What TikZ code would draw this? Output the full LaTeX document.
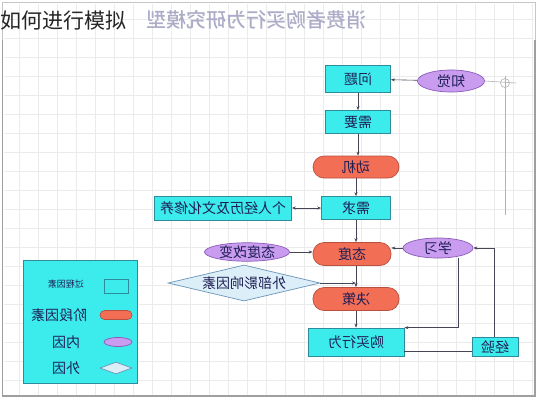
\documentclass[tikz,border=0pt]{standalone}
\usepackage{fontspec}
\usepackage{graphicx}
\newfontfamily\cjk{Noto Sans CJK SC}
\newfontfamily\cjkb{Noto Sans CJK SC Medium}
\usetikzlibrary{shapes.geometric,arrows.meta}
\definecolor{cy}{HTML}{3CEBEB}
\definecolor{cyb}{HTML}{2C8C9C}
\definecolor{org}{HTML}{F26E55}
\definecolor{orgb}{HTML}{B85040}
\definecolor{pur}{HTML}{C99CF0}
\definecolor{purb}{HTML}{8A5CB8}
\definecolor{dia}{HTML}{DCEFF8}
\definecolor{diab}{HTML}{6A94B8}
\definecolor{txt}{HTML}{1E1E55}
\definecolor{titlec}{HTML}{ACACC8}
\definecolor{conn}{HTML}{454555}
\newcommand{\mr}[1]{\reflectbox{#1}}
\begin{document}
\begin{tikzpicture}[x=1pt,y=-1pt,
  font=\cjk\fontsize{14}{14}\selectfont,
  every node/.style={text=txt},
  procbox/.style={draw=cyb, fill=cy, inner sep=0, line width=0.7},
  stagebox/.style={draw=orgb, fill=org, inner sep=0, rounded corners=11, line width=0.7},
  innerbox/.style={draw=purb, fill=pur, ellipse, inner sep=0, line width=0.7},
  outerbox/.style={draw=diab, fill=dia, diamond, aspect=4, inner sep=0, line width=0.7},
  arr/.style={draw=conn, line width=0.6, -{Stealth[length=4pt,width=3pt]}},
  darr/.style={draw=conn, line width=0.6, {Stealth[length=4pt,width=3pt]}-{Stealth[length=4pt,width=3pt]}},
  ln/.style={draw=conn, line width=0.6},
  guide/.style={draw=gray!60, line width=0.6}]
\fill[white] (0,0) rectangle (538,400);
\useasboundingbox (0,0) rectangle (538,400);
\foreach \gx in {19,38,...,532} {\draw[gray!16, line width=0.4] (\gx,4) -- (\gx,395);}
\foreach \gy in {19,38,...,394} {\draw[gray!16, line width=0.4] (4,\gy) -- (534,\gy);}
\draw[gray!45, line width=0.8] (2,2) rectangle (535,396);
\draw[gray!75, line width=1.6] (2.5,40) -- (2.5,396) -- (535,396) -- (535,40);
% title and overlay
\node[text=titlec, font=\cjkb\fontsize{20}{20}\selectfont, inner sep=0] (title) at (256,20) {\mr{消费者购买行为研究模型}};
\node[text=black!85, anchor=west, font=\cjk\fontsize{21}{21}\selectfont, inner sep=0] (ov) at (0,21) {如何进行模拟};
% main nodes
\node[procbox, minimum width=65, minimum height=27] (wenti) at (358,79) {\mr{问题}};
\node[innerbox, minimum width=67, minimum height=22] (zhijue) at (451,81) {\mr{知觉}};
\node[procbox, minimum width=65, minimum height=23] (xuyao) at (358,122) {\mr{需要}};
\node[stagebox, minimum width=86, minimum height=22] (dongji) at (356,167) {\mr{动机}};
\node[procbox, minimum width=69, minimum height=23] (xuqiu) at (356,208) {\mr{需求}};
\node[procbox, minimum width=137, minimum height=24] (geren) at (223,208) {\mr{个人经历及文化修养}};
\node[stagebox, minimum width=78, minimum height=23] (taidu) at (352,254) {\mr{态度}};
\node[innerbox, minimum width=70, minimum height=20] (xuexi) at (438,248) {\mr{学习}};
\node[innerbox, minimum width=85, minimum height=18] (gaibian) at (247,252) {\mr{态度改变}};
\node[outerbox, minimum width=152, minimum height=36] (waibu) at (244,283) {\mr{外部影响因素}};
\node[stagebox, minimum width=86, minimum height=23] (juece) at (356,299) {\mr{决策}};
\node[procbox, minimum width=96, minimum height=28] (goumai) at (356,342) {\mr{购买行为}};
\node[procbox, minimum width=46, minimum height=19] (jingyan) at (495,347) {\mr{经验}};
% guide line with crosshair
\coordinate (cross) at (505,83);
\coordinate (crossend) at (516,83);
\coordinate (crosstop) at (505,76);
\coordinate (crossbot) at (505,215);
\draw[guide] (zhijue.east) -- (crossend);
\draw[guide] (crosstop) -- (crossbot);
\draw[guide] (cross) circle[radius=4.5];
% connectors
\draw[arr] (zhijue) -- (wenti);
\draw[arr] (wenti.south -| xuyao) -- (xuyao);
\draw[arr] (xuyao) -- (xuyao |- dongji.north);
\draw[arr] (dongji) -- (dongji |- xuqiu.north);
\draw[darr] (geren) -- (xuqiu);
\draw[arr] (xuqiu) -- (xuqiu |- taidu.north);
\draw[arr] (gaibian) -- (gaibian -| taidu.west);
\draw[arr] (xuexi) -- (xuexi -| taidu.east);
\draw[arr] (taidu.south -| juece) -- (juece);
\coordinate (wjoin) at (356,283);
\draw[arr] (waibu.east) -- (wjoin);
\draw[arr] (juece) -- (goumai);
\coordinate (xl) at (458,250);
\draw[arr] (xl |- xuexi.south) |- (goumai.north east);
\coordinate (gy) at (404,351);
\draw[ln] (gy) -- (gy -| jingyan.west);
\coordinate (jx) at (494,250);
\draw[arr] (jx |- jingyan.north) |- (xuexi.east);
% legend
\node[procbox, minimum width=114, minimum height=123] (legend) at (80,321.5) {};
\node[font=\cjk\fontsize{9}{9}\selectfont] (l1t) at (66,284) {\mr{过程因素}};
\node[procbox, minimum width=24, minimum height=14] (l1s) at (116,286) {};
\node[font=\cjk\fontsize{14}{14}\selectfont] (l2t) at (59,315) {\mr{阶段因素}};
\node[stagebox, rounded corners=4.5, minimum width=32, minimum height=9] (l2s) at (116,315) {};
\node[font=\cjk\fontsize{14}{14}\selectfont] (l3t) at (66,342) {\mr{内因}};
\node[innerbox, minimum width=28, minimum height=9] (l3s) at (118,342) {};
\node[font=\cjk\fontsize{14}{14}\selectfont] (l4t) at (66,368) {\mr{外因}};
\node[outerbox, aspect=2.7, minimum width=32, minimum height=12] (l4s) at (116,368) {};
\end{tikzpicture}
\end{document}
